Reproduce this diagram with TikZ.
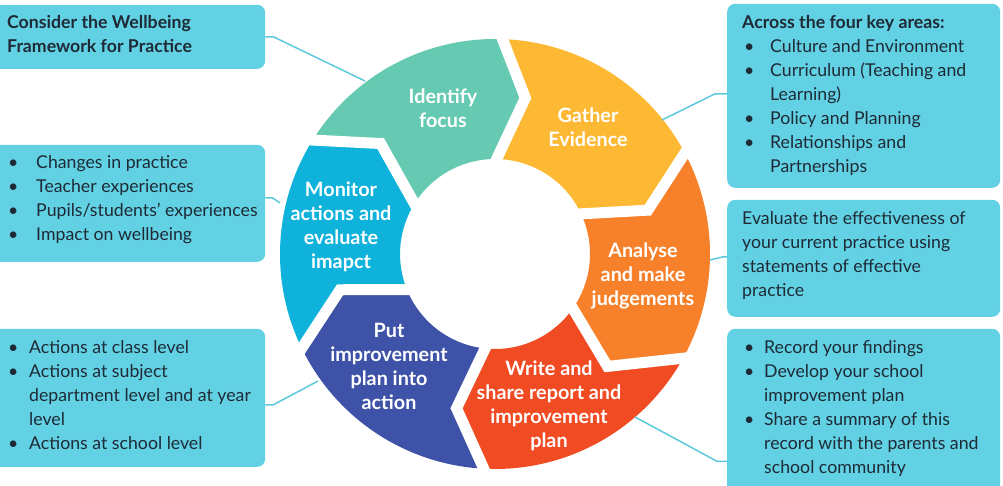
\documentclass[tikz,border=0pt]{standalone}
\usepackage{fontspec}
\setmainfont{Lato}
\definecolor{boxc}{HTML}{62D1E3}
\definecolor{linec}{HTML}{5CC9DD}
\definecolor{txtc}{HTML}{1E2A36}
\definecolor{cIdent}{HTML}{66C9B1}
\definecolor{cGather}{HTML}{FDB934}
\definecolor{cAnalyse}{HTML}{F6812A}
\definecolor{cWrite}{HTML}{F14B23}
\definecolor{cPut}{HTML}{3E52A7}
\definecolor{cMonitor}{HTML}{0EB2DA}
\def\ringRo{215}
\def\ringRi{95}
\def\ringRm{159}
\newcommand\ringseg[7]{\fill[#1] (#2:\ringRo) arc[start angle=#2, end angle=#5, radius=\ringRo] -- (#7:\ringRm) -- (#6:\ringRi) arc[start angle=#6, end angle=#3, radius=\ringRi] -- (#4:\ringRm) -- cycle;}
\newcommand\ringgap[3]{\draw[white, line width=11, line cap=rect, line join=miter] (#1:\ringRo) -- (#3:\ringRm) -- (#2:\ringRi);}
\newcommand\blt[1]{\makebox[#1pt][l]{\textbullet}}
\begin{document}
\begin{tikzpicture}[x=1pt,y=1pt,
  infobox/.style={fill=boxc, rounded corners=8, inner sep=0pt, anchor=south west},
  boxtext/.style={anchor=north west, inner sep=0pt, align=left, text=txtc, font=\fontsize{17.7}{24}\selectfont},
  seglabel/.style={text=white, align=center, inner sep=0pt, font=\bfseries\fontsize{19.8}{24}\selectfont},
  conn/.style={draw=linec, line width=1.5}]
\useasboundingbox (0,0) rectangle (1003,486);
% ring
\begin{scope}[shift={(495,232)}]
\ringseg{cIdent}{148}{148}{136}{88}{89}{79}
\ringseg{cGather}{88}{89}{79}{28}{25}{16}
\ringseg{cAnalyse}{28}{25}{16}{-29}{-35}{-45}
\ringseg{cWrite}{-29}{-35}{-45}{-93}{-96}{-104}
\ringseg{cPut}{-93}{-96}{-104}{-154}{-158}{-167}
\ringseg{cMonitor}{206}{202}{193}{148}{148}{136}
\ringgap{88}{89}{79}
\ringgap{28}{25}{16}
\ringgap{-29}{-35}{-45}
\ringgap{-93}{-96}{-104}
\ringgap{-154}{-158}{-167}
\ringgap{148}{148}{136}
\end{scope}
% segment labels
\node[seglabel] (lIdent) at (443,377.5) {Identify\\focus};
\node[seglabel] (lGather) at (588,359) {Gather\\Evidence};
\node[seglabel] (lAnalyse) at (643,210) {Analyse\\and make\\judgements};
\node[seglabel] (lWrite) at (549,80) {Write and\\share report and\\improvement\\plan};
\node[seglabel] (lPut) at (389,120) {Put\\improvement\\plan into\\action};
\node[seglabel] (lMonitor) at (341,259) {Monitor\\actions and\\evaluate\\imapct};
% boxes
\node[infobox, minimum width=275, minimum height=64] (boxTL) at (-10,417) {};
\node[infobox, minimum width=275, minimum height=117] (boxLM) at (-10,224) {};
\node[infobox, minimum width=275, minimum height=138] (boxLB) at (-10,19) {};
\node[infobox, minimum width=273, minimum height=184] (boxRT) at (727,298) {};
\node[infobox, minimum width=273, minimum height=117] (boxRM) at (727,169) {};
\node[infobox, minimum width=273, minimum height=177] (boxRB) at (727,-20) {};
% box texts
\node[boxtext] (tTL) at (7,470.5) {\bfseries Consider the Wellbeing\\\bfseries Framework for Practice};
\node[boxtext] (tLM) at (8,330.5) {\blt{28}Changes in practice\\\blt{28}Teacher experiences\\\blt{28}Pupils/students’ experiences\\\blt{28}Impact on wellbeing};
\node[boxtext] (tLB) at (8,145.5) {\blt{21}Actions at class level\\\blt{21}Actions at subject\\\hspace*{21pt}department level and at year\\\hspace*{21pt}level\\\blt{21}Actions at school level};
\node[boxtext] (tRT) at (742,470.5) {\bfseries Across the four key areas:\\\hspace*{2pt}\blt{26}Culture and Environment\\\hspace*{2pt}\blt{26}Curriculum (Teaching and\\\hspace*{28pt}Learning)\\\hspace*{2pt}\blt{26}Policy and Planning\\\hspace*{2pt}\blt{26}Relationships and\\\hspace*{28pt}Partnerships};
\node[boxtext] (tRM) at (742,274.5) {Evaluate the effectiveness of\\your current practice using\\statements of effective\\practice};
\node[boxtext] (tRB) at (742,145.5) {\hspace*{2pt}\blt{20}Record your findings\\\hspace*{2pt}\blt{20}Develop your school\\\hspace*{22pt}improvement plan\\\hspace*{2pt}\blt{20}Share a summary of this\\\hspace*{22pt}record with the parents and\\\hspace*{22pt}school community};
% connector ends on the ring
\coordinate (cI) at (365,405);
\coordinate (cG) at (662,366);
\coordinate (cA) at (710,226);
\coordinate (cW) at (635,69);
\coordinate (cP) at (318,105);
\coordinate (cM) at (280,283);
\draw[conn] (boxTL.east) -- ++(8,0) -- (cI);
\draw[conn] ([yshift=2]boxRT.west) -- ++(-12,0) -- (cG);
\draw[conn] ([yshift=1.5]boxRM.west) -- ++(-4,0) -- (cA);
\draw[conn] ([yshift=-44]boxRB.west) -- ++(-10,0) -- (cW);
\draw[conn] ([yshift=-7]boxLB.east) -- ++(8,0) -- (cP);
\draw[conn] ([yshift=5.5]boxLM.east) -- ++(7,0) -- (cM);
\end{tikzpicture}
\end{document}
